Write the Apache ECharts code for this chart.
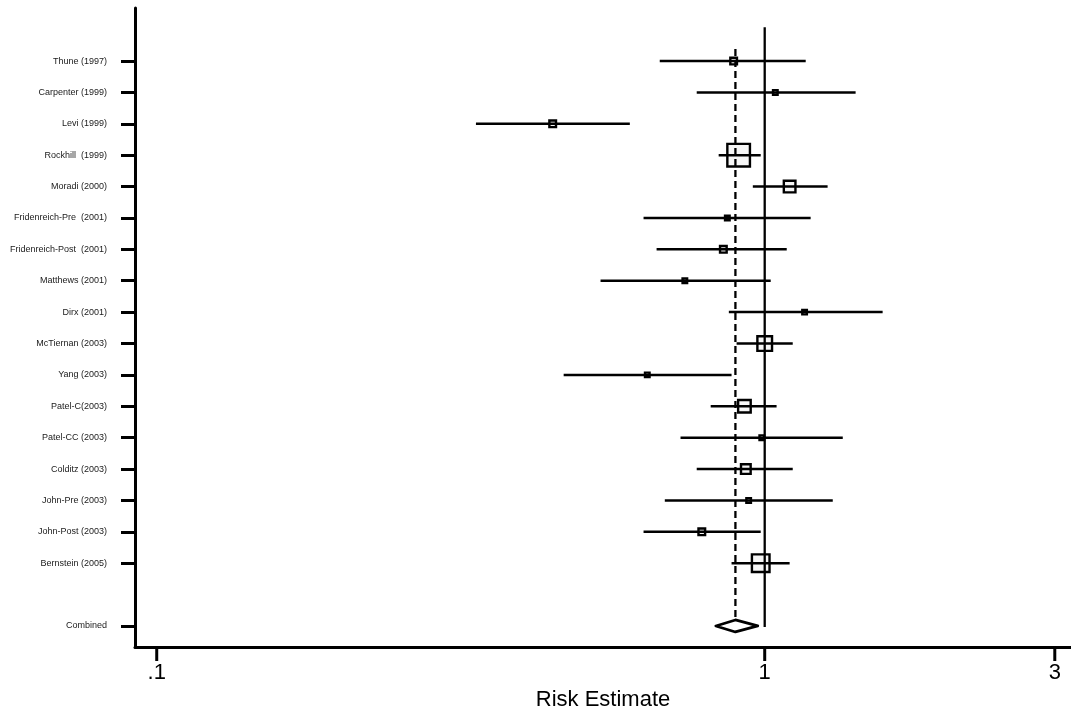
<!DOCTYPE html>
<html>
<head>
<meta charset="utf-8">
<title>Risk Estimate forest plot</title>
<script src="https://cdn.jsdelivr.net/npm/echarts@6/dist/echarts.min.js"></script>
<style>
  html, body { margin: 0; padding: 0; background: #fff; }
  #chart { width: 1071px; height: 711px; }
</style>
</head>
<body>
<div id="chart"></div>
<script>
// study labels, top to bottom
const studies = [
  'Thune (1997)', 'Carpenter (1999)', 'Levi (1999)', 'Rockhill  (1999)',
  'Moradi (2000)', 'Fridenreich-Pre  (2001)', 'Fridenreich-Post  (2001)',
  'Matthews (2001)', 'Dirx (2001)', 'McTiernan (2003)', 'Yang (2003)',
  'Patel-C(2003)', 'Patel-CC (2003)', 'Colditz (2003)', 'John-Pre (2003)',
  'John-Post (2003)', 'Bernstein (2005)'
]
const estimates = [0.889, 1.041, 0.448, 0.906, 1.099, 0.868, 0.855, 0.739, 1.163, 1.0, 0.641, 0.926, 0.989, 0.931, 0.941, 0.788, 0.985]
const lowerCI = [0.672, 0.773, 0.335, 0.840, 0.956, 0.632, 0.664, 0.537, 0.873, 0.899, 0.467, 0.815, 0.727, 0.773, 0.685, 0.632, 0.882]
const upperCI = [1.168, 1.411, 0.600, 0.985, 1.269, 1.190, 1.087, 1.023, 1.563, 1.112, 0.882, 1.046, 1.344, 1.112, 1.294, 0.985, 1.099]
// relative study weights (%)
const weights = [3.2, 1.9, 3.2, 24.5, 7.7, 1.9, 3.2, 1.9, 1.9, 11.4, 1.9, 8.8, 1.9, 5.7, 1.9, 3.2, 15.7]
const combinedLabel = 'Combined'
const combined = [0.831, 0.895, 0.974] // lower, estimate, upper
const nullValue = 1
const xTicks = [0.1, 1, 3]
const xTickLabels = ['.1', '1', '3']

const FONT = '"Liberation Sans", Arial, sans-serif'
const combinedRow = studies.length + 1 // one empty row before the pooled estimate
const rowTicks = studies.map((s, i) => i).concat([combinedRow])

const chart = echarts.init(document.getElementById('chart'))

const option = {
  animation: false,
  grid: { left: 135, right: 0, top: 8, bottom: 64, outerBoundsMode: 'none' },
  xAxis: {
    type: 'log',
    logBase: 10,
    min: 0.0921,
    max: 3.19,
    name: 'Risk Estimate',
    nameLocation: 'middle',
    nameGap: 42,
    nameTextStyle: { fontSize: 22, color: '#000', fontFamily: FONT },
    axisLine: { onZero: false, lineStyle: { color: '#000', width: 3 } },
    axisTick: { show: false },
    axisLabel: { show: false },
    splitLine: { show: false },
    minorTick: { show: false }
  },
  yAxis: {
    type: 'value',
    inverse: true,
    min: -1.69,
    max: 18.67,
    axisLine: { show: true, onZero: false, lineStyle: { color: '#000', width: 3 } },
    axisTick: {
      show: true,
      customValues: rowTicks,
      length: 14,
      lineStyle: { color: '#000', width: 3 }
    },
    axisLabel: {
      customValues: rowTicks,
      margin: 28,
      fontSize: 9,
      color: '#1a1a1a',
      fontFamily: FONT,
      formatter: v => (v === combinedRow ? combinedLabel : studies[v])
    },
    splitLine: { show: false }
  },
  series: [
    {
      // study boxes, side grows with sqrt of weight
      type: 'custom',
      silent: true,
      z: 2,
      data: estimates.map((e, i) => [e, i, weights[i]]),
      encode: { x: 0, y: 1 },
      renderItem: (params, api) => {
        const c = api.coord([api.value(0), api.value(1)])
        const side = 5.05 * Math.sqrt(api.value(2))
        const lw = 2.4
        return {
          type: 'rect',
          shape: { x: c[0] - side / 2 + lw / 2, y: c[1] - side / 2 + lw / 2, width: side - lw, height: side - lw },
          style: { fill: '#f6f6f6', stroke: '#000', lineWidth: lw }
        }
      }
    },
    {
      // confidence intervals
      type: 'custom',
      silent: true,
      z: 3,
      data: studies.map((s, i) => [lowerCI[i], upperCI[i], i]),
      encode: { x: [0, 1], y: 2 },
      renderItem: (params, api) => {
        const a = api.coord([api.value(0), api.value(2)])
        const b = api.coord([api.value(1), api.value(2)])
        return {
          type: 'line',
          shape: { x1: a[0], y1: a[1], x2: b[0], y2: b[1] },
          style: { stroke: '#000', lineWidth: 2.5 }
        }
      }
    },
    {
      // null line and pooled estimate line
      type: 'custom',
      silent: true,
      z: 4,
      data: [[nullValue, 0], [combined[1], 1]],
      encode: { x: 0 },
      renderItem: (params, api) => {
        const dashed = params.dataIndex === 1
        const top = api.coord([api.value(0), dashed ? -0.38 : -1.08])
        const bot = api.coord([api.value(0), combinedRow])
        return {
          type: 'line',
          shape: { x1: top[0], y1: top[1], x2: bot[0], y2: dashed ? bot[1] - 6 : bot[1] + 1 },
          style: { stroke: '#000', lineWidth: 2.3, lineDash: dashed ? [7, 4] : null }
        }
      }
    },
    {
      // pooled estimate diamond
      type: 'custom',
      silent: true,
      z: 5,
      data: [[combined[0], combined[1], combined[2], combinedRow]],
      encode: { x: [0, 1, 2], y: 3 },
      renderItem: (params, api) => {
        const l = api.coord([api.value(0), api.value(3)])
        const m = api.coord([api.value(1), api.value(3)])
        const r = api.coord([api.value(2), api.value(3)])
        return {
          type: 'polygon',
          shape: { points: [l, [m[0], m[1] - 6], r, [m[0], m[1] + 6]] },
          style: { fill: '#fff', stroke: '#000', lineWidth: 2.8, lineJoin: 'round' }
        }
      }
    },
    {
      // x axis ticks and labels at .1, 1, 3
      type: 'custom',
      silent: true,
      clip: false,
      z: 6,
      data: xTicks.map(v => [v, 0]),
      encode: { x: 0 },
      renderItem: (params, api) => {
        const p = api.coord([api.value(0), 0])
        const y0 = params.coordSys.y + params.coordSys.height
        return {
          type: 'group',
          children: [
            {
              type: 'line',
              shape: { x1: p[0], y1: y0, x2: p[0], y2: y0 + 14 },
              style: { stroke: '#000', lineWidth: 3 }
            },
            {
              type: 'text',
              style: {
                text: xTickLabels[params.dataIndex],
                x: p[0],
                y: y0 + 15,
                align: 'center',
                verticalAlign: 'top',
                font: '22px ' + FONT,
                fill: '#000'
              }
            }
          ]
        }
      }
    }
  ]
}

chart.setOption(option)
</script>
</body>
</html>
